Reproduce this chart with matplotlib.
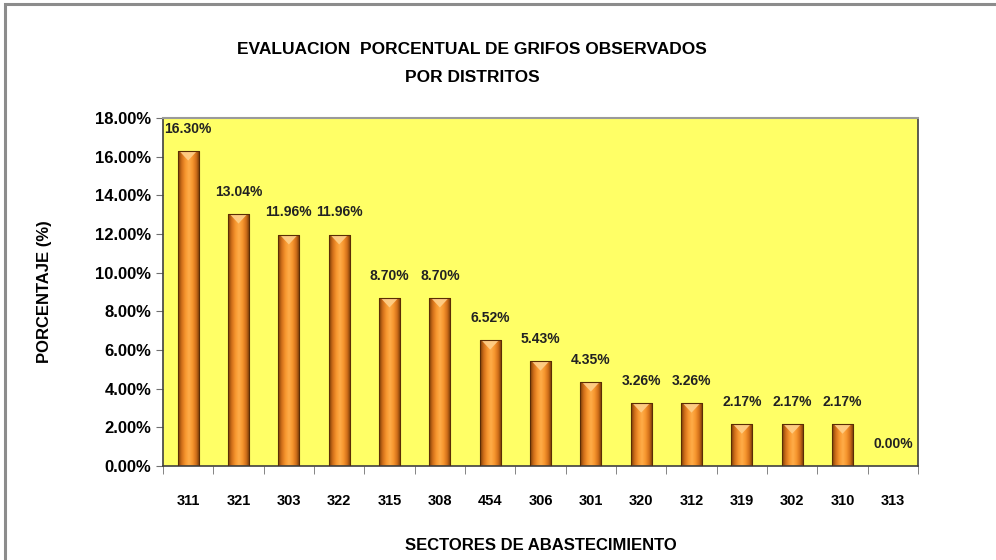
import numpy as np
import matplotlib.pyplot as plt
from matplotlib.patches import Rectangle, Polygon
from matplotlib.colors import LinearSegmentedColormap
from matplotlib.ticker import FuncFormatter, MultipleLocator

plt.rcParams['font.family'] = ['Liberation Sans', 'DejaVu Sans']

sectores = ["311", "321", "303", "322", "315", "308", "454", "306",
            "301", "320", "312", "319", "302", "310", "313"]
porcentaje = [16.30, 13.04, 11.96, 11.96, 8.70, 8.70, 6.52, 5.43,
              4.35, 3.26, 3.26, 2.17, 2.17, 2.17, 0.00]

fig = plt.figure(figsize=(9.96, 5.6), dpi=100)
fig.patch.set_facecolor("white")
# outer chart frame
fig.add_artist(Rectangle((5 / 996, -0.1), 1.2, 1 - 4 / 560 + 0.1,
                         transform=fig.transFigure, fill=False,
                         edgecolor="#8c8c8c", lw=2.2))

ax = fig.add_axes([163 / 996, 1 - 466 / 560, 755 / 996, 348 / 560])
ax.set_facecolor("#ffff66")

x = np.arange(len(sectores))
w = 0.42
cyl = LinearSegmentedColormap.from_list(
    "cyl", ["#7a3d08", "#d2701a", "#f7962e", "#ffae4a", "#f7962e", "#d2701a", "#6e3506"])
grad = np.linspace(0, 1, 64).reshape(1, -1)

bars = ax.bar(x, porcentaje, width=w, color="none", edgecolor="none", zorder=2)
for b, v in zip(bars, porcentaje):
    if v <= 0:
        continue
    x0 = b.get_x()
    im = ax.imshow(grad, cmap=cyl, aspect="auto", interpolation="bicubic",
                   extent=(x0, x0 + w, 0, v), zorder=2)
    im.set_clip_path(b)
    # lighter bevel at the top of each column
    cap = 0.5
    ax.add_patch(Polygon([(x0 + 0.05, v - 0.05), (x0 + w - 0.05, v - 0.05), (x0 + w / 2, v - cap)],
                         closed=True, facecolor="#ffd08a", edgecolor="none",
                         alpha=0.9, zorder=3))
    ax.add_patch(Rectangle((x0, 0), w, v, fill=False, edgecolor="#5a2d05",
                           lw=0.8, zorder=3))

for xi, v in zip(x, porcentaje):
    ax.annotate(f"{v:.2f}%", (xi, v), xytext=(0, 11), textcoords="offset points",
                ha="center", va="bottom", fontsize=10, fontweight="bold",
                color="#222222", zorder=4)

ax.set_xlim(-0.5, len(sectores) - 0.5)
ax.set_ylim(0, 18)
ax.yaxis.set_major_locator(MultipleLocator(2))
ax.yaxis.set_major_formatter(FuncFormatter(lambda v, p: f"{v:.2f}%"))
ax.set_xticks(x)
ax.set_xticklabels(sectores, fontsize=10.5, fontweight="bold")
ax.set_xticks(np.arange(-0.5, len(sectores)), minor=True)
ax.tick_params(axis="x", which="major", length=0, pad=20)
ax.tick_params(axis="x", which="minor", length=6, direction="out", color="#707070")
ax.tick_params(axis="y", length=5, direction="out", color="#707070", labelsize=12)
for t in ax.get_yticklabels():
    t.set_fontweight("bold")

for side in ("left", "bottom", "right"):
    ax.spines[side].set_color("#404040")
    ax.spines[side].set_linewidth(1.2)
ax.spines["top"].set_color("#9a9a9a")
ax.spines["top"].set_linewidth(1.5)

ax.set_ylabel("PORCENTAJE (%)", fontsize=12, fontweight="bold", labelpad=31)
ax.set_xlabel("SECTORES DE ABASTECIMIENTO", fontsize=12, fontweight="bold", labelpad=22)
fig.text(472 / 996, 1 - 50 / 560, "EVALUACION  PORCENTUAL DE GRIFOS OBSERVADOS",
         ha="center", va="center", fontsize=12.5, fontweight="bold")
fig.text(472 / 996, 1 - 77 / 560, "POR DISTRITOS",
         ha="center", va="center", fontsize=12.5, fontweight="bold")

fig.savefig("out.png", dpi=100)
